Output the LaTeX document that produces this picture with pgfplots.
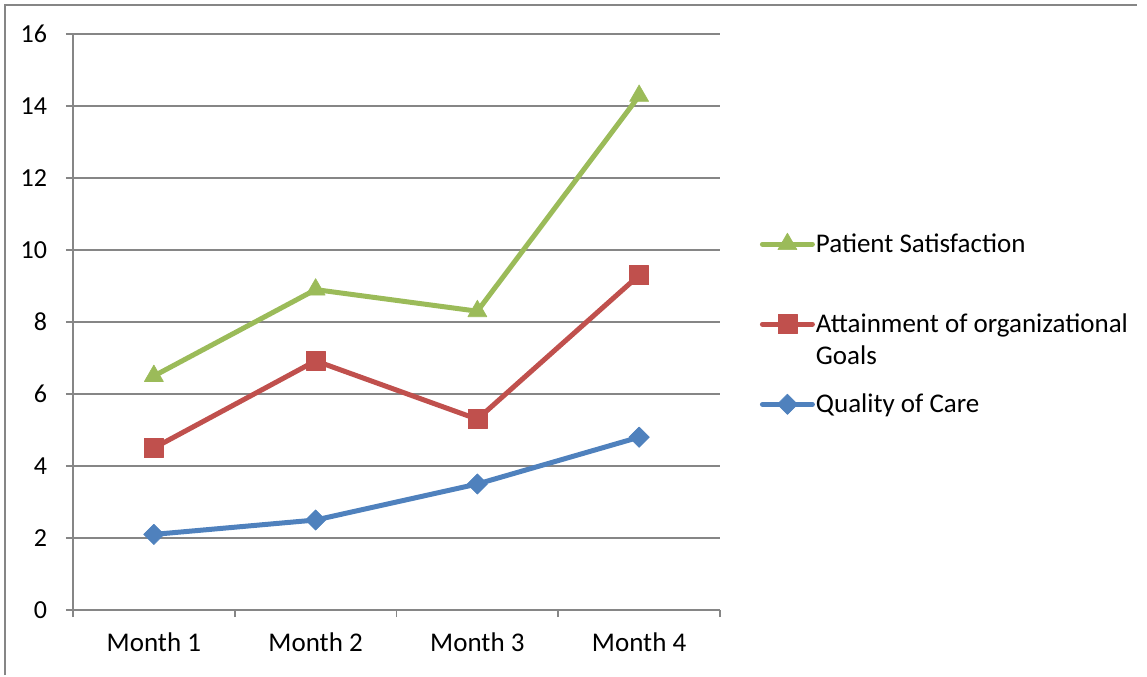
\documentclass[border=0pt]{standalone}
\usepackage{pgfplots}
\pgfplotsset{compat=1.18}
\usepackage{fontspec}
\setmainfont{Carlito}
\definecolor{cgreen}{HTML}{9BBB59}
\definecolor{cred}{HTML}{C0504D}
\definecolor{cblue}{HTML}{4F81BD}
\definecolor{cgrid}{HTML}{868686}
\begin{document}
\begin{tikzpicture}[font=\fontsize{13.5}{16}\selectfont]
\begin{axis}[
  scale only axis,
  width=323.5pt, height=288pt,
  xmin=-0.5, xmax=3.5, ymin=0, ymax=16,
  axis lines*=left,
  axis line style={draw=cgrid, line width=0.8pt, -},
  tick align=outside,
  ytick={0,2,...,16},
  xtick={0,1,2,3},
  xticklabels={Month 1,Month 2,Month 3,Month 4},
  minor xtick={-0.5,0.5,1.5,2.5,3.5},
  major x tick style={draw=none},
  tick style={draw=cgrid, line width=0.8pt},
  major tick length=3.5pt, minor tick length=3.5pt,
  ymajorgrids,
  grid style={draw=cgrid, line width=0.8pt},
  /pgf/number format/assume math mode=true,
  xticklabel style={font=\fontsize{13.5}{16}\selectfont, anchor=base, yshift=-17pt},
  yticklabel style={font=\fontsize{13}{16}\selectfont, anchor=east, xshift=-6pt},
  clip=false,
  legend style={at={(1.0611,0.655)}, anchor=north west, draw=none, fill=none,
    inner sep=0pt, /tikz/row sep=30pt, /tikz/column sep=0.5pt,
    nodes={inner sep=0pt, text height=9pt, text depth=1pt, anchor=west}},
  legend cell align=left,
  legend image code/.code={\draw[mark repeat=2,mark phase=2,#1,line cap=round] plot coordinates {(1.25pt,0pt) (13.75pt,0pt) (26.25pt,0pt)};},
  every axis plot/.append style={line width=2.5pt, line join=round},
]
\addplot[cgreen, mark=triangle*, mark size=5.5pt, mark options={line width=0.3pt}] coordinates {(0,6.5) (1,8.9) (2,8.3) (3,14.28)};
\addlegendentry{Patient Satisfaction}
\addplot[cred, mark=square*, mark size=4.75pt, mark options={line width=0.3pt}] coordinates {(0,4.5) (1,6.92) (2,5.3) (3,9.3)};
\addlegendentry{\raisebox{0pt}[\height][0pt]{\begin{tabular}[t]{@{}l@{}}Attainment of organizational\\Goals\end{tabular}}}
\addplot[cblue, mark=square*, mark size=3.6pt, mark options={rotate=45, line width=0.3pt}] coordinates {(0,2.1) (1,2.5) (2,3.5) (3,4.8)};
\addlegendentry{Quality of Care}
\end{axis}
\draw[cgrid, line width=1pt] (-34pt,-32.5pt) -- (-34pt,302.5pt) -- (532pt,302.5pt);
\useasboundingbox (-36.5pt,-32.5pt) rectangle (537pt,305pt);
\end{tikzpicture}
\end{document}
